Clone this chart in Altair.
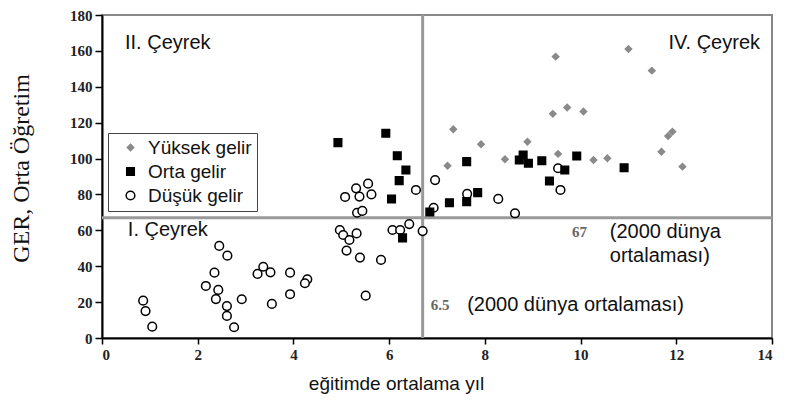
import altair as alt
import pandas as pd

# ---- data ----
yuksek_x = [9.48, 11.0, 11.49, 9.42, 9.72, 10.06, 7.34, 7.92, 8.89, 9.53, 7.22, 8.42, 10.27, 10.56, 11.92, 11.83, 11.69, 12.13]
yuksek_y = [156.8, 161.1, 149.0, 124.9, 128.4, 126.2, 116.3, 108.0, 109.4, 102.6, 96.0, 99.6, 99.2, 100.2, 115.0, 112.6, 103.8, 95.5]

orta_x = [4.93, 5.93, 6.17, 6.35, 6.21, 6.05, 6.85, 6.28, 7.26, 7.62, 7.85, 7.62, 8.80, 8.72, 8.91, 9.19, 9.92, 9.67, 9.35, 10.91]
orta_y = [108.9, 114.1, 101.6, 93.6, 87.7, 77.5, 70.2, 55.8, 75.4, 76.0, 81.0, 98.3, 102.0, 99.2, 97.4, 98.8, 101.4, 93.6, 87.5, 94.9]

dusuk_x = [0.86, 0.91, 1.05,
           2.45, 2.62, 2.35, 2.17, 2.43, 2.38, 2.61, 2.61, 2.76, 2.92,
           3.25, 3.37, 3.52, 3.55, 3.93, 4.29, 4.24, 3.93,
           5.51, 5.11, 5.39, 5.83, 4.97, 5.04, 5.17, 5.32,
           6.07, 6.23, 6.42, 6.70,
           5.33, 5.44, 5.08, 5.31, 5.56, 5.38, 5.63, 6.56, 6.96, 6.93,
           7.63, 8.28, 8.63, 9.53, 9.58]
dusuk_y = [20.8, 15.0, 6.3,
           51.3, 45.9, 36.4, 29.0, 26.8, 21.7, 17.8, 12.3, 6.0, 21.6,
           35.7, 39.7, 36.6, 19.0, 36.4, 32.7, 30.5, 24.4,
           23.6, 48.7, 44.8, 43.5, 60.2, 57.4, 54.6, 58.3,
           60.2, 60.2, 63.5, 59.6,
           69.8, 70.8, 78.6, 83.4, 86.0, 78.8, 80.0, 82.5, 88.0, 72.6,
           80.3, 77.5, 69.5, 94.6, 82.5]

groups = ["Yüksek gelir", "Orta gelir", "Düşük gelir"]
group_fill = ["#8a8a8a", "#000000", "#ffffff"]
group_stroke = ["#8a8a8a", "#000000", "#000000"]
group_shape = ["diamond", "square", "circle"]
group_size = [40, 75, 45]

world_avg_years = 6.7
world_avg_ger = 67

x_ticks = list(range(0, 15, 2))
y_ticks = list(range(0, 181, 20))

sans_labels = ["II. Çeyrek", "IV. Çeyrek", "I. Çeyrek", "(2000 dünya", "ortalaması)", "(2000 dünya ortalaması)"]
sans_x = [0.48, 13.75, 0.54, 10.61, 10.61, 7.63]
sans_y = [164.4, 164.4, 60.2, 59.1, 45.7, 18.4]
sans_align = ["left", "right", "left", "left", "left", "left"]

serif_labels = ["67", "6.5"]
serif_x = [9.82, 6.87]
serif_y = [59.1, 18.4]

# ---- tables ----
pts = pd.DataFrame({
    "x": dusuk_x + yuksek_x + orta_x,
    "y": dusuk_y + yuksek_y + orta_y,
    "grup": ["Düşük gelir"] * len(dusuk_x) + ["Yüksek gelir"] * len(yuksek_x) + ["Orta gelir"] * len(orta_x),
})
sans_df = pd.DataFrame({"x": sans_x, "y": sans_y, "t": sans_labels, "a": sans_align})
serif_df = pd.DataFrame({"x": serif_x, "y": serif_y, "t": serif_labels})
vdf = pd.DataFrame({"x": [world_avg_years]})
hdf = pd.DataFrame({"y": [world_avg_ger]})

xs = alt.Scale(domain=[0, 14], nice=False)
ys = alt.Scale(domain=[0, 180], nice=False)
xax = alt.Axis(values=x_ticks, tickSize=6, labelPadding=3, labelOverlap=False,
               titleX=294, titleY=45, titleBaseline="middle")
yax = alt.Axis(values=y_ticks, tickSize=7, labelPadding=3, labelOverlap=False,
               titleX=-81, titleY=153, titleAngle=-90, titleBaseline="middle",
               titleFont="Liberation Serif", titleFontSize=24)
XT = "eğitimde ortalama yıl"
YT = "GER, Orta Öğretim"


def X():
    return alt.X("x:Q", scale=xs, axis=xax, title=XT)


def Y():
    return alt.Y("y:Q", scale=ys, axis=yax, title=YT)


leg = alt.Legend(title=None)

points = alt.Chart(pts).mark_point(filled=True, opacity=1, strokeWidth=1.5).encode(
    x=X(), y=Y(),
    fill=alt.Fill("grup:N", scale=alt.Scale(domain=groups, range=group_fill), legend=leg),
    stroke=alt.Stroke("grup:N", scale=alt.Scale(domain=groups, range=group_stroke), legend=leg),
    shape=alt.Shape("grup:N", scale=alt.Scale(domain=groups, range=group_shape), legend=leg),
    size=alt.Size("grup:N", scale=alt.Scale(domain=groups, range=group_size), legend=leg),
)

vline = alt.Chart(vdf).mark_rule(color="#9a9a9a", strokeWidth=3).encode(x=X())
hline = alt.Chart(hdf).mark_rule(color="#9a9a9a", strokeWidth=3).encode(y=Y())

sans_left = alt.Chart(sans_df[sans_df.a == "left"]).mark_text(
    align="left", baseline="middle", font="Liberation Sans", fontSize=20, color="#111").encode(
    x=X(), y=Y(), text="t:N")
sans_right = alt.Chart(sans_df[sans_df.a == "right"]).mark_text(
    align="right", baseline="middle", font="Liberation Sans", fontSize=20, color="#111").encode(
    x=X(), y=Y(), text="t:N")
serif_txt = alt.Chart(serif_df).mark_text(
    align="left", baseline="middle", font="Liberation Serif", fontSize=15, fontWeight="bold", color="#666").encode(
    x=X(), y=Y(), text="t:N")

chart = alt.layer(vline, hline, points, sans_left, sans_right, serif_txt).properties(
    width=670, height=323,
    autosize=alt.AutoSizeParams(type="none"),
    padding={"left": 94, "top": 7, "right": 6, "bottom": 62},
).configure_view(
    stroke="#888888", strokeWidth=2
).configure_axis(
    grid=False, domainColor="#000", domainWidth=2, tickColor="#000", tickWidth=1.5,
    labelFont="Liberation Serif", labelFontSize=15, labelFontWeight="bold", labelColor="#222",
    titleFont="Liberation Sans", titleFontSize=19, titleFontWeight="normal", titleColor="#111",
).configure_legend(
    orient="none", legendX=6, legendY=118,
    strokeColor="#444", fillColor="#ffffff", padding=5, rowPadding=4,
    labelFont="Liberation Sans", labelFontSize=19, labelColor="#111",
    symbolOffset=8, labelOffset=8,
)

chart.save("out.html", embed_options={"renderer": "svg", "actions": False})
